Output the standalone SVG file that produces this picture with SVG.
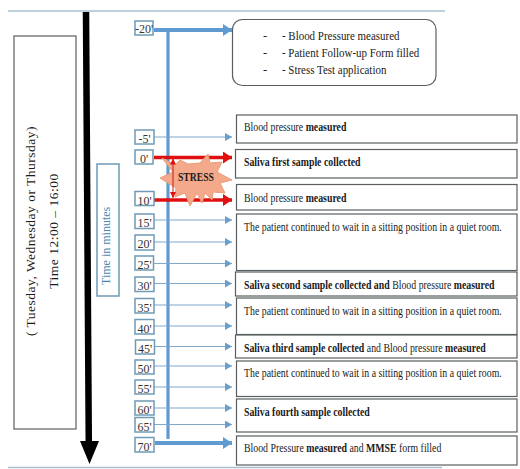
<svg xmlns="http://www.w3.org/2000/svg" width="520" height="469" viewBox="0 0 520 469">
<style>
text{font-family:"Liberation Serif","Times New Roman",serif;fill:#1a1a1a}
.b{fill:#fff;stroke:#5a5f62;stroke-width:1.2}
.t{fill:#fff;stroke:#6f9ab5;stroke-width:1.5}
.tl{font-size:12px;text-anchor:middle;fill:#333}
.m{font-size:11.5px}
.n{font-size:12.5px;fill:#222}
.bd{font-weight:bold}
.thin{stroke:#7fa8cb;stroke-width:1.2;fill:none;marker-end:url(#ab)}
.thick{stroke:#5f9bd0;stroke-width:4;fill:none;marker-end:url(#abk)}
.red{stroke:#e01010;stroke-width:3.5;fill:none;marker-end:url(#ar)}
.rule{stroke:#a9c0cc;stroke-width:1.3}
</style>
<defs>
<marker id="ab" markerUnits="userSpaceOnUse" markerWidth="7" markerHeight="8" refX="7" refY="4" orient="auto"><path d="M0 0L7 4L0 8Z" fill="#6a9fcb"/></marker>
<marker id="abk" markerUnits="userSpaceOnUse" markerWidth="9" markerHeight="12" refX="9" refY="6" orient="auto"><path d="M0 0L9 6L0 12Z" fill="#5f9bd0"/></marker>
<marker id="ar" markerUnits="userSpaceOnUse" markerWidth="9" markerHeight="12" refX="9" refY="6" orient="auto"><path d="M0 0L9 6L0 12Z" fill="#e01010"/></marker>
<marker id="ars" markerUnits="userSpaceOnUse" markerWidth="6" markerHeight="6" refX="6" refY="3" orient="auto-start-reverse"><path d="M0 0L6 3L0 6Z" fill="#e01010"/></marker>
</defs>
<rect width="520" height="469" fill="#fff"/>
<line class="rule" x1="8" y1="11" x2="445" y2="11"/>
<line class="rule" x1="8" y1="467.5" x2="442" y2="467.5"/>

<g id="connectors">
<path d="M86 12L88.8 445" stroke="#000" stroke-width="6.5" fill="none"/>
<path d="M80 441L99 441L89.5 464Z" fill="#000"/>
<line x1="168" y1="30" x2="168" y2="439" stroke="#5f9bd0" stroke-width="3.2"/>
<line class="thick" x1="154" y1="30" x2="232" y2="30"/>
<line class="thick" x1="155" y1="443" x2="232" y2="443"/>
<line class="thin" x1="154" y1="137" x2="232" y2="137"/>
<line class="thin" x1="154" y1="220" x2="232" y2="220"/>
<line class="thin" x1="154" y1="242" x2="232" y2="242"/>
<line class="thin" x1="154" y1="263.5" x2="232" y2="263.5"/>
<line class="thin" x1="154" y1="283.5" x2="232" y2="283.5"/>
<line class="thin" x1="154" y1="305" x2="232" y2="305"/>
<line class="thin" x1="154" y1="326" x2="232" y2="326"/>
<line class="thin" x1="154" y1="346.5" x2="232" y2="346.5"/>
<line class="thin" x1="154" y1="366" x2="232" y2="366"/>
<line class="thin" x1="154" y1="387" x2="232" y2="387"/>
<line class="thin" x1="154" y1="408" x2="232" y2="408"/>
<line class="thin" x1="154" y1="424.5" x2="232" y2="424.5"/>
<line class="red" x1="154" y1="157.5" x2="232" y2="157.5"/>
<line class="red" x1="154" y1="200" x2="232" y2="200"/>
</g>

<g id="stress">
<path d="M162 158L175 165L180 160L188 164L200 163L208 154L210 163L222 162L217 172L232 180L220 183L225 193L213 192L212 200L205 193L202 203L197 193L190 206L185 193L175 197L176 188L160 178L173 172Z" fill="#f4a98a" stroke="#ea9c78" stroke-width="1"/>
<line x1="173" y1="158.500" x2="173" y2="198" stroke="#c81818" stroke-width="1" marker-start="url(#ars)" marker-end="url(#ars)"/>
<text transform="translate(178,181) scale(.84,1)" font-size="11.5" font-weight="bold">STRESS</text>
</g>

<g id="day-box"><rect class="b" x="14" y="36" width="62" height="393"/>
<text transform="translate(35,231) rotate(-90)" text-anchor="middle" font-size="13.5" letter-spacing=".5">( Tuesday, Wednesday or Thursday)</text>
<text transform="translate(58,231) rotate(-90)" text-anchor="middle" font-size="13.5" letter-spacing=".5">Time 12:00 – 16:00</text></g>
<g id="time-axis-label"><rect class="t" x="97" y="164" width="22" height="132"/>
<text transform="translate(110,285) rotate(-90)" font-size="12" style="fill:#4f86ad">Time in minutes</text></g>

<g id="t-20"><rect class="t" x="135" y="21" width="18" height="14"/><text class="tl" x="144" y="33">-20'</text></g>
<g id="t-5"><rect class="t" x="135" y="130" width="19" height="14"/><text class="tl" x="144.5" y="143">-5'</text></g>
<g id="t0"><rect class="t" x="135" y="150" width="18" height="14"/><text class="tl" x="144" y="163">0'</text></g>
<g id="t10"><rect class="t" x="135" y="191.500" width="19" height="14"/><text class="tl" x="144.500" y="205">10'</text></g>
<g id="t15"><rect class="t" x="135" y="214" width="19" height="14.500"/><text class="tl" x="144.500" y="227">15'</text></g>
<g id="t20"><rect class="t" x="135" y="235" width="19" height="15"/><text class="tl" x="144.500" y="248">20'</text></g>
<g id="t25"><rect class="t" x="135" y="256" width="18.500" height="14"/><text class="tl" x="144.500" y="269">25'</text></g>
<g id="t30"><rect class="t" x="135" y="277" width="19" height="14.500"/><text class="tl" x="144.500" y="290">30'</text></g>
<g id="t35"><rect class="t" x="135" y="298.500" width="19" height="14.500"/><text class="tl" x="144.500" y="311.500">35'</text></g>
<g id="t40"><rect class="t" x="135" y="319.500" width="19" height="14.500"/><text class="tl" x="144.500" y="332.500">40'</text></g>
<g id="t45"><rect class="t" x="135.500" y="340" width="19" height="14"/><text class="tl" x="145" y="353">45'</text></g>
<g id="t50"><rect class="t" x="135" y="360" width="19" height="14"/><text class="tl" x="144.500" y="373">50'</text></g>
<g id="t55"><rect class="t" x="135" y="380" width="19" height="14"/><text class="tl" x="144.500" y="393">55'</text></g>
<g id="t60"><rect class="t" x="135" y="401" width="19" height="14"/><text class="tl" x="144.500" y="414">60'</text></g>
<g id="t65"><rect class="t" x="135" y="417.500" width="19" height="14.500"/><text class="tl" x="144.500" y="430.500">65'</text></g>
<g id="t70"><rect class="t" x="135" y="437.500" width="19" height="14.500"/><text class="tl" x="144.500" y="450.500">70'</text></g>

<g id="n-20"><rect class="b" x="232.500" y="19.500" width="203.500" height="66" rx="10"/>
<text class="n" x="263" y="40">-</text><text class="n" transform="translate(282,40) scale(.875,1)">- Blood Pressure measured</text>
<text class="n" x="263" y="57">-</text><text class="n" transform="translate(282,57) scale(.875,1)">- Patient Follow-up Form filled</text>
<text class="n" x="263" y="74">-</text><text class="n" transform="translate(282,74) scale(.875,1)">- Stress Test application</text></g>
<g id="n-5"><rect class="b" x="236.500" y="115" width="280.500" height="28"/><text class="m" transform="translate(244,131) scale(.855,1)">Blood pressure <tspan class="bd">measured</tspan></text></g>
<g id="n0"><rect class="b" x="235.500" y="149.500" width="281.500" height="28.500"/><text class="m bd" transform="translate(244,166) scale(.855,1)">Saliva first sample collected</text></g>
<g id="n10"><rect class="b" x="236.500" y="184.500" width="280.500" height="25.500"/><text class="m" transform="translate(244,202) scale(.855,1)">Blood pressure <tspan class="bd">measured</tspan></text></g>
<g id="n15"><rect class="b" x="236.500" y="214" width="280.500" height="56.500"/><text class="m" transform="translate(244,230.500) scale(.855,1)">The patient continued to wait in a sitting position in a quiet room.</text></g>
<g id="n30"><rect class="b" x="235.500" y="272" width="281.500" height="24"/><text class="m" transform="translate(244,289) scale(.855,1)"><tspan class="bd">Saliva second sample collected and</tspan> Blood pressure <tspan class="bd">measured</tspan></text></g>
<g id="n35"><rect class="b" x="236.500" y="298" width="280.500" height="36.500"/><text class="m" transform="translate(244,314.500) scale(.855,1)">The patient continued to wait in a sitting position in a quiet room.</text></g>
<g id="n45"><rect class="b" x="235.500" y="335" width="281.500" height="23"/><text class="m" transform="translate(244,352) scale(.855,1)"><tspan class="bd">Saliva third sample collected</tspan> and Blood pressure <tspan class="bd">measured</tspan></text></g>
<g id="n50"><rect class="b" x="236.500" y="361" width="280.500" height="35.500"/><text class="m" transform="translate(244,377) scale(.855,1)">The patient continued to wait in a sitting position in a quiet room.</text></g>
<g id="n60"><rect class="b" x="236.500" y="399" width="280.500" height="33"/><text class="m bd" transform="translate(244,416) scale(.855,1)">Saliva fourth sample collected</text></g>
<g id="n70"><rect class="b" x="236.500" y="436" width="280.500" height="29"/><text class="m" transform="translate(244,452) scale(.855,1)">Blood Pressure <tspan class="bd">measured</tspan> and <tspan class="bd">MMSE</tspan> form filled</text></g>
</svg>
